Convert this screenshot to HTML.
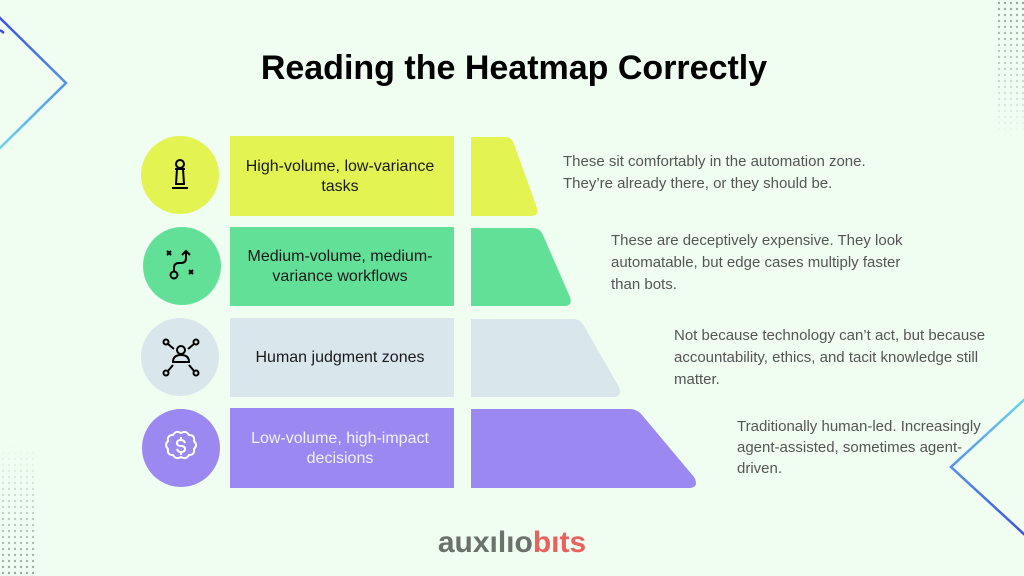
<!DOCTYPE html>
<html><head><meta charset="utf-8"><style>
html,body{margin:0;padding:0;background:#f0fdf1;}
svg{display:block;font-family:"Liberation Sans",sans-serif;}
</style></head><body>
<svg width="1024" height="576" viewBox="0 0 1024 576" xmlns="http://www.w3.org/2000/svg">
<defs>
<linearGradient id="g1" x1="0" y1="0" x2="0" y2="1"><stop offset="0" stop-color="#3d4fe0"/><stop offset="1" stop-color="#6dd3ef"/></linearGradient>
<linearGradient id="g2" x1="0" y1="1" x2="0" y2="0"><stop offset="0" stop-color="#3d4fe0"/><stop offset="1" stop-color="#6dd3ef"/></linearGradient>
<pattern id="dots" width="6" height="6" patternUnits="userSpaceOnUse"><circle cx="3" cy="3" r="1.2" fill="#9aa39c"/></pattern>
<linearGradient id="fadeV" x1="0" y1="0" x2="0" y2="1"><stop offset="0" stop-color="#fff" stop-opacity="1"/><stop offset="1" stop-color="#fff" stop-opacity="0"/></linearGradient>
<linearGradient id="fadeV2" x1="0" y1="1" x2="0" y2="0"><stop offset="0" stop-color="#fff" stop-opacity="1"/><stop offset="1" stop-color="#fff" stop-opacity="0"/></linearGradient>
<mask id="m1"><rect x="994" y="0" width="30" height="138" fill="url(#fadeV)"/></mask>
<mask id="m2"><rect x="0" y="445" width="38" height="131" fill="url(#fadeV2)"/></mask>
</defs>
<rect width="1024" height="576" fill="#f0fdf1"/>
<rect x="994" y="0" width="30" height="138" fill="url(#dots)" mask="url(#m1)"/>
<rect x="0" y="445" width="38" height="131" fill="url(#dots)" mask="url(#m2)"/>
<polyline points="-2,16 66,83 -2,150" fill="none" stroke="url(#g1)" stroke-width="2.5"/>
<polyline points="0,30 4,33" fill="none" stroke="#3d4fe0" stroke-width="2.5"/>
<polyline points="1026,398 951,467 1026,536" fill="none" stroke="url(#g2)" stroke-width="2.5"/>

<text x="514" y="79" text-anchor="middle" font-size="34" font-weight="bold" fill="#000">Reading the Heatmap Correctly</text>

<!-- Row 1 -->
<circle cx="180" cy="175" r="39" fill="#e2f352"/>
<rect x="230" y="136" width="224" height="80" fill="#e2f352"/>
<path d="M471,137 L505,137 Q512,137 514,144 L537,208 Q539,216 531,216 L471,216 Z" fill="#e2f352"/>
<text font-size="16" fill="#1a1a1a" text-anchor="middle"><tspan x="340" y="171">High-volume, low-variance</tspan><tspan x="340" y="191">tasks</tspan></text>
<g fill="none" stroke="#000" stroke-width="2"><circle cx="180" cy="164" r="4"/><path d="M175,169h10M177,169l-1,15M183,169l1,15M172,188h16M175,184h10"/></g>
<text font-size="15" fill="#555"><tspan x="563" y="166">These sit comfortably in the automation zone.</tspan><tspan x="563" y="188">They’re already there, or they should be.</tspan></text>

<!-- Row 2 -->
<circle cx="182" cy="266" r="39" fill="#63e098"/>
<rect x="230" y="227" width="224" height="79" fill="#63e098"/>
<path d="M471,228 L533,228 Q540,228 543,235 L570,297 Q573,306 564,306 L471,306 Z" fill="#63e098"/>
<text font-size="16" fill="#1a1a1a" text-anchor="middle"><tspan x="340" y="261">Medium-volume, medium-</tspan><tspan x="340" y="281">variance workflows</tspan></text>
<g fill="none" stroke="#000" stroke-width="2"><path d="M167,251l4,4M171,251l-4,4M189,270l4,4M193,270l-4,4"/><circle cx="174" cy="275" r="3.5"/><path d="M174,271v-3q0,-5 5,-5h2q5,0 5,-5v-6M182,255l4,-4l4,4"/></g>
<text font-size="15" fill="#555"><tspan x="611" y="245">These are deceptively expensive. They look</tspan><tspan x="611" y="267">automatable, but edge cases multiply faster</tspan><tspan x="611" y="289">than bots.</tspan></text>

<!-- Row 3 -->
<circle cx="180" cy="357" r="39" fill="#d9e6ec"/>
<rect x="230" y="318" width="224" height="79" fill="#d9e6ec"/>
<path d="M471,319 L573,319 Q580,319 584,326 L619,387 Q623,397 613,397 L471,397 Z" fill="#d9e6ec"/>
<text x="340" y="362" font-size="16" fill="#1a1a1a" text-anchor="middle">Human judgment zones</text>
<g fill="none" stroke="#000" stroke-width="2"><circle cx="181" cy="350" r="4"/><path d="M173,362q0,-7 8,-7q8,0 8,7z"/><circle cx="166" cy="342" r="2.5"/><circle cx="196" cy="342" r="2.5"/><circle cx="166" cy="373" r="2.5"/><circle cx="196" cy="373" r="2.5"/><path d="M168,344l6,5M194,344l-6,5M168,371l5,-6M194,371l-5,-6"/></g>
<text font-size="15" fill="#555"><tspan x="674" y="340">Not because technology can’t act, but because</tspan><tspan x="674" y="362">accountability, ethics, and tacit knowledge still</tspan><tspan x="674" y="384">matter.</tspan></text>

<!-- Row 4 -->
<circle cx="181" cy="448" r="39" fill="#9b88f0"/>
<rect x="230" y="408" width="224" height="80" fill="#9b88f0"/>
<path d="M471,409 L630,409 Q637,409 642,415 L694,477 Q700,488 688,488 L471,488 Z" fill="#9b88f0"/>
<text font-size="16" fill="#f3f0ff" text-anchor="middle"><tspan x="340" y="443">Low-volume, high-impact</tspan><tspan x="340" y="463">decisions</tspan></text>
<g fill="none" stroke="#fff" stroke-width="2"><path d="M181,433 q5,-3 8,2 q6,0 5,6 q4,4 0,8 q1,6 -5,6 q-3,5 -8,2 q-5,3 -8,-2 q-6,0 -5,-6 q-4,-4 0,-8 q-1,-6 5,-6 q3,-5 8,-2z"/><path d="M185,443q-1,-3 -4,-3q-4,0 -4,3q0,3 4,3q4,0 4,3q0,3 -4,3q-3,0 -4,-3M181,437v3M181,452v3"/></g>
<text font-size="15" fill="#555"><tspan x="737" y="431">Traditionally human-led. Increasingly</tspan><tspan x="737" y="452">agent-assisted, sometimes agent-</tspan><tspan x="737" y="473">driven.</tspan></text>

<text x="512" y="552" text-anchor="middle" font-size="30" font-weight="bold"><tspan fill="#6b716b">auxılıo</tspan><tspan fill="#e8625f">bıts</tspan></text>
</svg>
</body></html>
